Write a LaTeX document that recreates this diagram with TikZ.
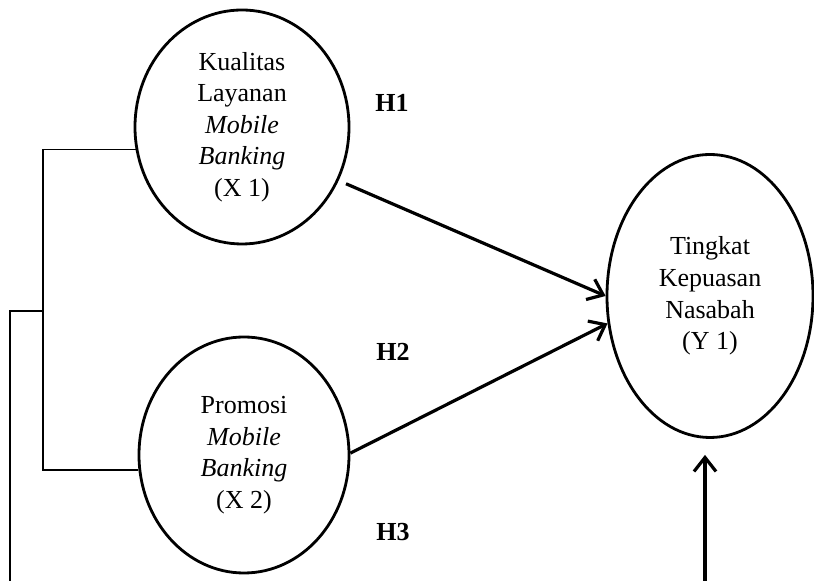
\documentclass[tikz,border=0pt]{standalone}
\usepackage{fontspec}
\setmainfont{Liberation Serif}
\usetikzlibrary{shapes.geometric,arrows.meta,positioning}

\begin{document}
\begin{tikzpicture}[x=0.5pt,y=-0.5pt,
    construct/.style={ellipse,draw,line width=1.4pt,inner sep=0pt,align=center,
      font=\fontsize{13}{15.8}\selectfont},
    hyp/.style={font=\fontsize{13}{15.5}\selectfont\bfseries},
    link/.style={line width=0.8pt},
    effect/.style={line width=1.6pt,-{Straight Barb[length=7pt,width=11pt]}}]
  \useasboundingbox (0,0) rectangle (814,581);

  \node[construct,minimum width=107pt,minimum height=117pt] (kualitas) at (242,127)
    {Kualitas\\Layanan\\\textit{Mobile}\\\textit{Banking}\\(X 1)};
  \node[construct,minimum width=105pt,minimum height=118pt] (promosi) at (244,455)
    {Promosi\\\textit{Mobile}\\\textit{Banking}\\(X 2)};
  \node[construct,minimum width=103pt,minimum height=141.5pt] (kepuasan) at (710,296)
    {Tingkat\\Kepuasan\\Nasabah\\(Y 1)};

  \node[hyp] (h1) at (392,103) {H1};
  \node[hyp] (h2) at (393,352) {H2};
  \node[hyp] (h3) at (393,532) {H3};

  \coordinate (split) at (43,311);
  \coordinate (left) at (10,581);
  \coordinate (base) at (705,581);

  \draw[link] (kualitas.192) -| (split |- promosi.188) -- (promosi.188);
  \draw[link] (split) -| (left);

  \draw[effect,shorten <=4pt] (kualitas.-29) -- (kepuasan.west);
  \draw[effect] (promosi.1) -- (kepuasan.195);
  \draw[effect,shorten >=8pt] (base) -- (base |- kepuasan.south);
\end{tikzpicture}
\end{document}
